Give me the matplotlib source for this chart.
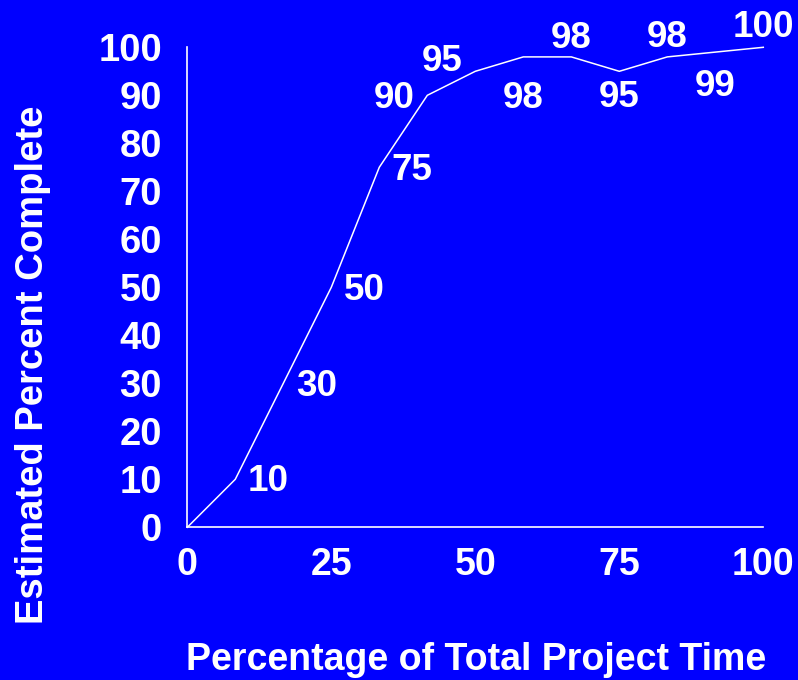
import matplotlib
matplotlib.use("Agg")
import matplotlib.pyplot as plt

# Project progress: estimated completion vs. elapsed project time
time_pct = [0, 8.33, 16.67, 25, 33.33, 41.67, 50, 58.33, 66.67, 75, 83.33, 91.67, 100]
complete_pct = [0, 10, 30, 50, 75, 90, 95, 98, 98, 95, 98, 99, 100]
labels = ["", "10", "30", "50", "75", "90", "95", "98", "98", "95", "98", "99", "100"]

x_ticks = [0, 25, 50, 75, 100]
y_ticks = [0, 10, 20, 30, 40, 50, 60, 70, 80, 90, 100]

# label placement relative to each point (pixels, ink centre)
label_offsets = [(0, 0), (33, 1), (33, 0), (33, 0), (33, 0), (-33, 0), (-33, 13),
                 (0, -38), (0, 22), (0, -23), (0, 23), (0, -31), (0, 23)]

BLUE = "#0000FF"
FONT = "Liberation Sans"
LABEL_SIZE = 26.5

W, H = 798, 680
fig = plt.figure(figsize=(W / 100, H / 100), dpi=100, facecolor=BLUE)
x0, x1, y0, y1 = 187.3, 763.3, 47.3, 527.3
ax = fig.add_axes([x0 / W, 1 - y1 / H, (x1 - x0) / W, (y1 - y0) / H])
ax.set_facecolor(BLUE)

ax.plot(time_pct, complete_pct, color="white", lw=1.1, clip_on=False)

ax.set_xlim(0, 100)
ax.set_ylim(0, 100)
ax.set_xticks(x_ticks)
ax.set_yticks(y_ticks)
ax.set_xticklabels([str(v) for v in x_ticks])
ax.set_yticklabels([str(v) for v in y_ticks])
for side in ("top", "right"):
    ax.spines[side].set_visible(False)
for side in ("left", "bottom"):
    ax.spines[side].set_color("white")
    ax.spines[side].set_linewidth(1.2)
ax.tick_params(axis="x", length=0, pad=14.5, labelsize=27, labelcolor="white")
ax.tick_params(axis="y", length=0, pad=18.3, labelsize=27.5, labelcolor="white")
for t in ax.get_xticklabels() + ax.get_yticklabels():
    t.set_fontfamily(FONT)
    t.set_fontweight("bold")

digit_half = 0.716 * LABEL_SIZE * 100 / 72 / 2
for xv, yv, lab, (dx, dy) in zip(time_pct, complete_pct, labels, label_offsets):
    if not lab:
        continue
    ax.annotate(lab, (xv, yv), xytext=(dx, dy - digit_half), textcoords="offset pixels",
                ha="center", va="baseline", color="white", fontsize=LABEL_SIZE,
                fontweight="bold", fontfamily=FONT, annotation_clip=False)

fig.text(43.3 / W, 1 - 365 / H, "Estimated Percent Complete", rotation=90,
         rotation_mode="anchor", ha="center", va="baseline", color="white",
         fontsize=27.5, fontweight="bold", fontfamily=FONT)
fig.text(476.5 / W, 1 - 670.5 / H, "Percentage of Total Project Time",
         ha="center", va="baseline", color="white",
         fontsize=27, fontweight="bold", fontfamily=FONT)

fig.savefig("out.png", dpi=100, facecolor=BLUE)
